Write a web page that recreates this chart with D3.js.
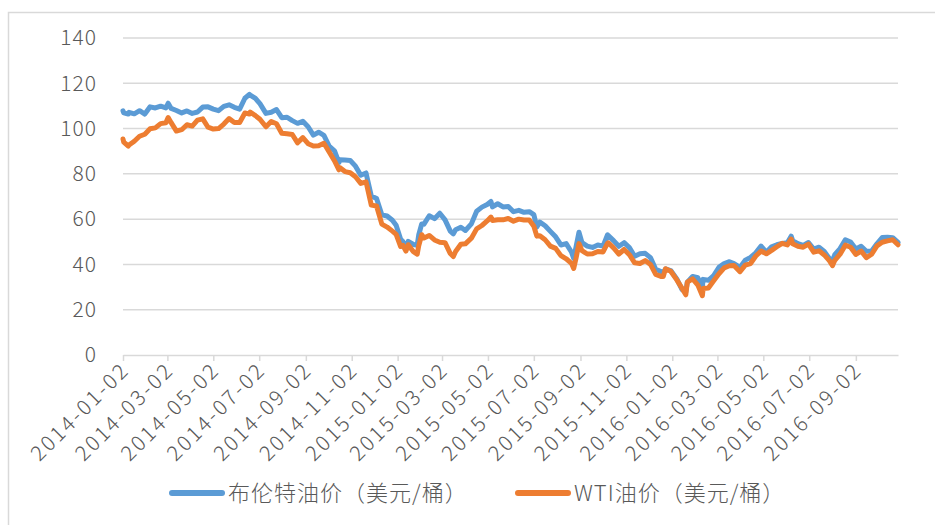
<!DOCTYPE html>
<html>
<head>
<meta charset="utf-8">
<script src="https://cdn.jsdelivr.net/npm/d3@7/dist/d3.min.js"></script>
<style>
  html, body { margin: 0; padding: 0; background: #fff; }
  svg { display: block; }
  text { font-family: "Noto Sans CJK SC", "Noto Sans", sans-serif; font-weight: 300; fill: #595959; }
</style>
</head>
<body>
<svg id="chart" width="935" height="525"></svg>
<script>
// Trading dates (weekly closes plus notable intraweek turning points)
const dates = [
  "2014-01-02","2014-01-03","2014-01-09","2014-01-10","2014-01-17","2014-01-24","2014-01-31",
  "2014-02-07","2014-02-14","2014-02-21","2014-02-28","2014-03-03","2014-03-07","2014-03-14",
  "2014-03-21","2014-03-28","2014-04-04","2014-04-11","2014-04-18","2014-04-25","2014-05-02",
  "2014-05-09","2014-05-16","2014-05-23","2014-05-30","2014-06-06","2014-06-13","2014-06-19",
  "2014-06-20","2014-06-27","2014-07-03","2014-07-11","2014-07-18","2014-07-25","2014-08-01",
  "2014-08-08","2014-08-15","2014-08-22","2014-08-29","2014-09-05","2014-09-12","2014-09-19",
  "2014-09-26","2014-10-03","2014-10-10","2014-10-16","2014-10-17","2014-10-24","2014-10-31",
  "2014-11-07","2014-11-14","2014-11-21","2014-11-28","2014-12-05","2014-12-12","2014-12-19",
  "2014-12-26","2014-12-31",
  "2015-01-06","2015-01-09","2015-01-13","2015-01-16","2015-01-23","2015-01-28","2015-01-30",
  "2015-02-03","2015-02-06","2015-02-13","2015-02-20","2015-02-27","2015-03-06","2015-03-13",
  "2015-03-17","2015-03-20","2015-03-27","2015-04-02","2015-04-10","2015-04-17","2015-04-24",
  "2015-05-01","2015-05-06","2015-05-08","2015-05-15","2015-05-22","2015-05-29","2015-06-05",
  "2015-06-12","2015-06-19","2015-06-26","2015-07-02","2015-07-06","2015-07-10","2015-07-17",
  "2015-07-24","2015-07-31","2015-08-07","2015-08-14","2015-08-21","2015-08-24","2015-08-27",
  "2015-08-31","2015-09-04","2015-09-11","2015-09-18","2015-09-25","2015-10-02","2015-10-08",
  "2015-10-09","2015-10-16","2015-10-23","2015-10-30","2015-11-06","2015-11-13","2015-11-20",
  "2015-11-27","2015-12-04","2015-12-11","2015-12-18","2015-12-21","2015-12-24","2015-12-31",
  "2016-01-08","2016-01-15","2016-01-20","2016-01-22","2016-01-29","2016-02-05","2016-02-11",
  "2016-02-12","2016-02-19","2016-02-26","2016-03-04","2016-03-11","2016-03-18","2016-03-24",
  "2016-04-01","2016-04-08","2016-04-15","2016-04-22","2016-04-29","2016-05-06","2016-05-13",
  "2016-05-20","2016-05-27","2016-06-03","2016-06-08","2016-06-10","2016-06-17","2016-06-24",
  "2016-07-01","2016-07-08","2016-07-15","2016-07-22","2016-07-29","2016-08-02","2016-08-05",
  "2016-08-12","2016-08-19","2016-08-26","2016-09-02","2016-09-09","2016-09-16","2016-09-23",
  "2016-09-30","2016-10-07","2016-10-14","2016-10-21","2016-10-28"
];

// Brent crude, USD per barrel
const brent = [
  107.8,106.9,106.4,107.2,106.5,107.9,106.4,
  109.6,109.1,109.9,109.1,111.2,108.9,108.0,
  106.9,107.8,106.7,107.3,109.5,109.6,108.6,
  107.9,109.8,110.5,109.4,108.6,113.4,115.1,
  114.8,113.3,111.0,106.7,107.2,108.4,104.8,
  105.0,103.5,102.3,103.2,100.8,97.1,98.4,
  97.0,92.3,90.2,85.0,86.2,86.1,85.9,
  83.4,79.4,80.4,70.2,69.1,61.9,61.4,
  59.5,57.3,
  51.1,50.1,46.6,50.2,48.8,48.5,53.0,
  57.9,57.8,61.5,60.2,62.6,59.7,54.7,
  53.5,55.3,56.4,55.0,57.9,63.5,65.3,
  66.5,67.8,65.4,66.8,65.4,65.6,63.3,
  63.9,63.0,63.3,62.0,56.5,58.7,57.1,
  54.6,52.2,48.6,49.2,45.5,42.7,47.6,
  54.2,49.6,48.1,47.5,48.6,48.1,53.1,
  52.7,50.5,48.0,49.6,47.4,43.6,44.7,
  44.9,43.0,37.9,36.9,36.4,38.0,37.3,
  33.6,28.9,27.9,32.2,34.7,34.1,30.1,
  33.4,33.0,35.1,38.7,40.4,41.2,40.4,
  38.7,41.9,43.1,45.1,48.1,45.4,47.8,
  48.7,49.3,49.6,52.5,50.5,49.2,48.4,
  49.7,46.8,47.6,45.7,42.5,41.8,44.3,
  47.0,50.9,49.9,46.8,48.0,45.8,45.9,
  49.1,51.9,52.0,51.8,49.7
];

// WTI crude, USD per barrel
const wti = [
  95.4,94.0,92.3,92.7,94.4,96.6,97.5,
  99.9,100.3,102.2,102.6,104.9,102.6,98.9,
  99.5,101.7,101.1,103.7,104.3,100.6,99.8,
  100.0,102.0,104.4,102.7,102.7,106.9,106.4,
  107.3,105.7,104.1,100.8,103.1,102.1,97.9,
  97.7,97.4,93.7,96.0,93.3,92.3,92.4,
  93.5,89.7,85.8,81.8,82.8,81.0,80.5,
  78.7,75.8,76.5,66.2,65.8,57.8,56.5,
  54.7,53.3,
  47.9,48.4,45.9,48.7,45.6,44.5,48.2,
  53.1,51.7,52.8,50.8,49.8,49.6,44.8,
  43.5,45.7,48.9,49.1,51.6,55.7,57.2,
  59.2,60.9,59.4,59.7,59.7,60.3,59.1,
  60.0,59.6,59.6,56.9,52.5,52.7,50.9,
  48.1,47.1,43.9,42.5,40.5,38.2,42.6,
  49.2,46.1,44.6,44.7,45.7,45.5,49.4,
  49.6,47.3,44.6,46.6,44.3,40.7,40.4,
  41.7,40.0,35.6,34.7,34.7,38.1,37.0,
  33.2,29.4,26.6,32.2,33.6,30.9,26.2,
  29.4,29.6,32.8,35.9,38.5,39.4,39.5,
  36.8,39.7,40.4,43.7,45.9,44.7,46.2,
  47.8,49.3,48.6,51.2,49.1,48.0,47.6,
  49.0,45.4,46.0,44.2,41.6,39.5,41.8,
  44.5,48.5,47.6,44.4,45.9,43.0,44.5,
  48.2,49.8,50.4,50.9,48.7
];

// Category axis labels, every two months
const xTickLabels = [
  "2014-01-02","2014-03-02","2014-05-02","2014-07-02","2014-09-02","2014-11-02",
  "2015-01-02","2015-03-02","2015-05-02","2015-07-02","2015-09-02","2015-11-02",
  "2016-01-02","2016-03-02","2016-05-02","2016-07-02","2016-09-02"
];
const yTicks = [0, 20, 40, 60, 80, 100, 120, 140];

const seriesNames = ["布伦特油价（美元/桶）", "WTI油价（美元/桶）"];
const colors = ["#5B9BD5", "#ED7D31"];

const parse = d3.timeParse("%Y-%m-%d");
const series = [brent, wti].map(vals => dates.map((d, i) => ({ date: parse(d), value: vals[i] })));

const svg = d3.select("#chart");
const plot = { left: 123, right: 898, top: 38, bottom: 355 };

// chart frame
svg.append("rect")
  .attr("x", 8.5).attr("y", 12.5)
  .attr("width", 940).attr("height", 540)
  .attr("fill", "#fff").attr("stroke", "#d9d9d9").attr("stroke-width", 1.5);

const x = d3.scaleTime()
  .domain([parse(dates[0]), parse(dates[dates.length - 1])])
  .range([plot.left, plot.right]);

const y = d3.scaleLinear().domain([0, 140]).range([plot.bottom, plot.top]);

// horizontal gridlines
svg.append("g")
  .selectAll("line")
  .data(yTicks.filter(v => v > 0))
  .join("line")
  .attr("x1", plot.left).attr("x2", plot.right)
  .attr("y1", d => y(d)).attr("y2", d => y(d))
  .attr("stroke", "#d9d9d9").attr("stroke-width", 1.5);

// y labels
svg.append("g")
  .selectAll("text")
  .data(yTicks)
  .join("text")
  .attr("x", 97)
  .attr("y", d => y(d))
  .attr("dy", "0.35em")
  .attr("text-anchor", "end")
  .style("font-size", "21px")
  .style("letter-spacing", "1px")
  .text(d => d);

// x axis
const xAxis = d3.axisBottom(x)
  .tickValues(xTickLabels.map(parse))
  .tickFormat(d3.timeFormat("%Y-%m-%d"))
  .tickSize(6)
  .tickSizeOuter(0);

const gx = svg.append("g")
  .attr("transform", `translate(0,${plot.bottom})`)
  .call(xAxis);
gx.select(".domain").attr("stroke", "#d9d9d9").attr("stroke-width", 1.5);
gx.selectAll(".tick line").attr("stroke", "#d9d9d9").attr("stroke-width", 1.5);
gx.selectAll(".tick text")
  .attr("fill", "#595959")
  .style("font-size", "21px")
  .style("letter-spacing", "2.5px")
  .style("font-family", "\"Noto Sans CJK SC\", \"Noto Sans\", sans-serif")
  .attr("text-anchor", "end")
  .attr("dy", "0.35em")
  .attr("transform", "translate(2,11) rotate(-45)")
  .attr("x", 0).attr("y", 0);

// price lines
const line = d3.line().x(d => x(d.date)).y(d => y(d.value));
svg.append("g")
  .selectAll("path")
  .data(series)
  .join("path")
  .attr("d", line)
  .attr("fill", "none")
  .attr("stroke", (d, i) => colors[i])
  .attr("stroke-width", 5)
  .attr("stroke-linejoin", "round")
  .attr("stroke-linecap", "round");

// legend
const legendItems = [{ x: 172 }, { x: 518 }];
const lg = svg.append("g").attr("transform", "translate(0,493)");
legendItems.forEach((it, i) => {
  lg.append("line")
    .attr("x1", it.x).attr("x2", it.x + 50)
    .attr("y1", 0).attr("y2", 0)
    .attr("stroke", colors[i]).attr("stroke-width", 6)
    .attr("stroke-linecap", "round");
  lg.append("text")
    .attr("x", it.x + 56)
    .attr("y", 0)
    .attr("dy", "0.35em")
    .style("font-size", "22px")
    .style("letter-spacing", "1px")
    .text(seriesNames[i]);
});
</script>
</body>
</html>
